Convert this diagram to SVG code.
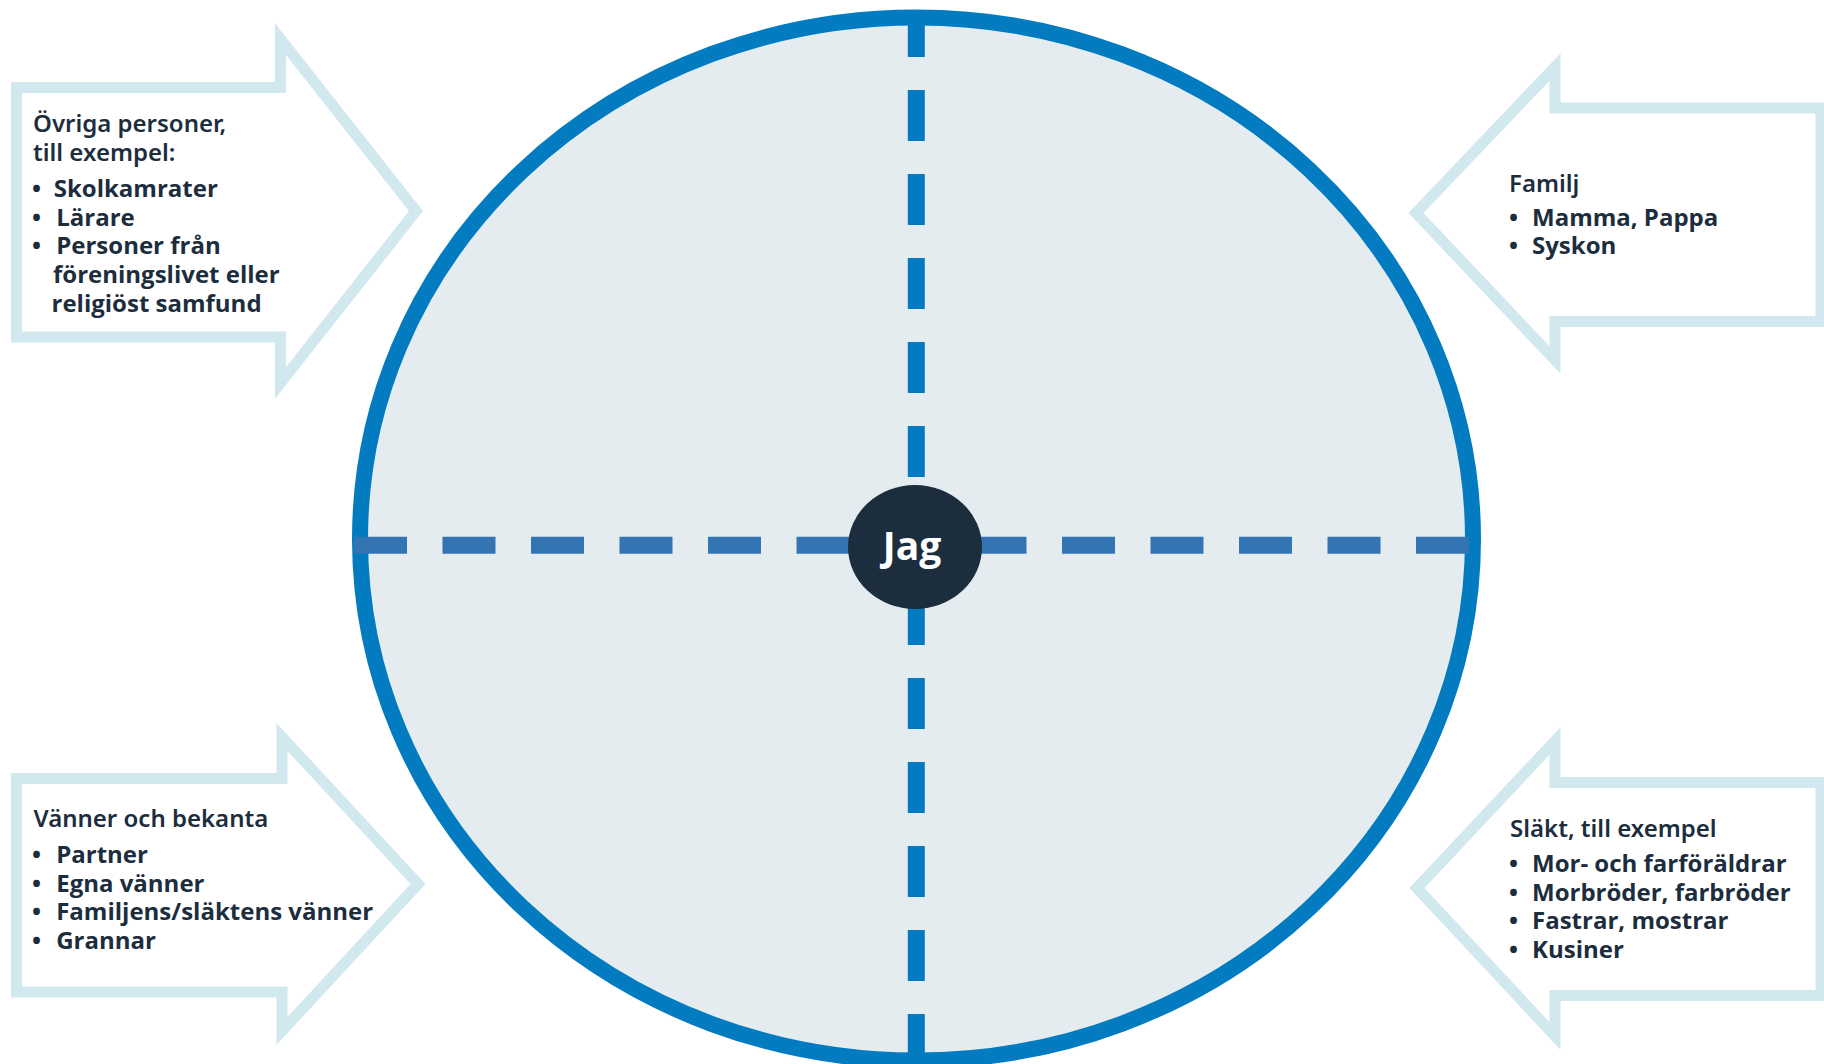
<svg xmlns="http://www.w3.org/2000/svg" width="1824" height="1064" viewBox="0 0 1824 1064">
<style>
.arrow{fill:#ffffff;stroke:#d1e8ee;stroke-width:11;stroke-linejoin:miter;stroke-miterlimit:10}
.h{font-family:"Noto Sans","Open Sans","Liberation Sans",sans-serif;font-weight:600;font-size:24px;fill:#1c2d3e}
.i{font-family:"Open Sans","Noto Sans","Liberation Sans",sans-serif;font-weight:700;font-size:24px;fill:#1c2d3e}
.jag{font-family:"Open Sans","Noto Sans","Liberation Sans",sans-serif;font-weight:700;font-size:39px;fill:#ffffff}
</style>
<rect x="0" y="0" width="1824" height="1064" fill="#ffffff"/>
<g id="circle">
<ellipse cx="916.5" cy="539" rx="556.5" ry="521.5" fill="#e4ecef" stroke="#027bc1" stroke-width="16"/>
</g>
<g id="connectors">
<line x1="916.3" y1="10" x2="916.3" y2="1062" stroke="#047bc1" stroke-width="17" stroke-dasharray="51 33" stroke-dashoffset="4"/>
<line x1="354" y1="545.3" x2="1469" y2="545.3" stroke="#3374b3" stroke-width="17" stroke-dasharray="53 35.5"/>
</g>
<g id="jag">
<ellipse cx="915" cy="547" rx="67" ry="62" fill="#1c2d3e"/>
<text class="jag" x="912" y="560" text-anchor="middle">Jag</text>
</g>
<g id="ovriga">
<polygon class="arrow" points="16.5,87.5 280.5,87.5 280.5,39 416,211 280.5,383 280.5,337 16.5,337"/>
<text class="h" x="33" y="132.3">Övriga personer,</text>
<text class="h" x="33" y="161">till exempel:</text>
<text class="i" y="196.7"><tspan x="32">•</tspan><tspan x="53.7">Skolkamrater</tspan></text>
<text class="i" y="225.7"><tspan x="32">•</tspan><tspan x="56.2">Lärare</tspan></text>
<text class="i" y="254.3"><tspan x="32">•</tspan><tspan x="56.2">Personer från</tspan></text>
<text class="i" x="53" y="283.3">föreningslivet eller</text>
<text class="i" x="51.5" y="311.7">religiöst samfund</text>
</g>
<g id="familj">
<polygon class="arrow" points="1821,108 1555,108 1555,67 1416,213 1555,360 1555,321.5 1821,321.5"/>
<text class="h" x="1509" y="191.7">Familj</text>
<text class="i" y="225.7"><tspan x="1509">•</tspan><tspan x="1532">Mamma, Pappa</tspan></text>
<text class="i" y="254.3"><tspan x="1509">•</tspan><tspan x="1532">Syskon</tspan></text>
</g>
<g id="vanner">
<polygon class="arrow" points="16.5,778.5 282,778.5 282,737 418,884 282,1031 282,992 16.5,992"/>
<text class="h" x="33.5" y="827.3">Vänner och bekanta</text>
<text class="i" y="862.7"><tspan x="32">•</tspan><tspan x="56.2">Partner</tspan></text>
<text class="i" y="891.7"><tspan x="32">•</tspan><tspan x="56.2">Egna vänner</tspan></text>
<text class="i" y="920"><tspan x="32">•</tspan><tspan x="56.2">Familjens/släktens vänner</tspan></text>
<text class="i" y="948.7"><tspan x="32">•</tspan><tspan x="56.2">Grannar</tspan></text>
</g>
<g id="slakt">
<polygon class="arrow" points="1821,782.5 1555,782.5 1555,741 1417,888 1555,1036 1555,995.5 1821,995.5"/>
<text class="h" x="1510" y="837.3">Släkt, till exempel</text>
<text class="i" y="871.7"><tspan x="1509">•</tspan><tspan x="1532">Mor- och farföräldrar</tspan></text>
<text class="i" y="901"><tspan x="1509">•</tspan><tspan x="1532">Morbröder, farbröder</tspan></text>
<text class="i" y="929.3"><tspan x="1509">•</tspan><tspan x="1532">Fastrar, mostrar</tspan></text>
<text class="i" y="958.3"><tspan x="1509">•</tspan><tspan x="1532">Kusiner</tspan></text>
</g>
</svg>
